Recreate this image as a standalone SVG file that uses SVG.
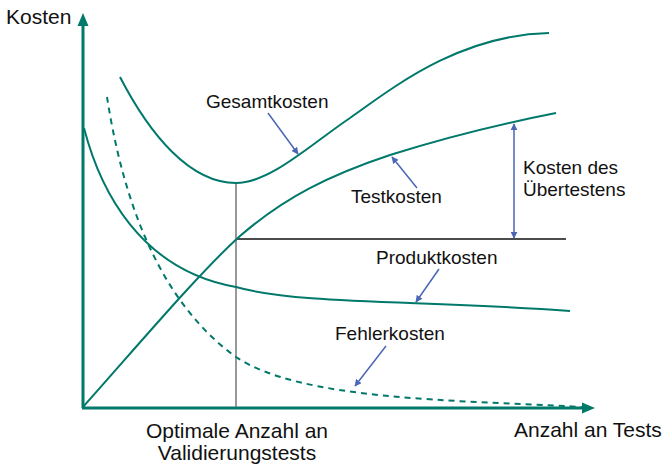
<svg xmlns="http://www.w3.org/2000/svg" width="672" height="467" viewBox="0 0 672 467">
  <style>
    .curve { fill: none; stroke: #00796B; stroke-width: 2; }
    .dashed { stroke-dasharray: 6 5; }
    .axis { fill: none; stroke: #00796B; stroke-width: 3; }
    .head { fill: #00796B; }
    .ptr { fill: none; stroke: #4A66B5; stroke-width: 1.5; }
    .lbl { font-family: "Liberation Sans", Arial, sans-serif; font-size: 19px; fill: #111; }
    .big { font-size: 21px; }
  </style>
  <defs>
    <marker id="tip" viewBox="0 0 10 10" refX="9" refY="5" markerWidth="7" markerHeight="7" markerUnits="userSpaceOnUse" orient="auto-start-reverse">
      <path d="M0,0 L10,5 L0,10 z" fill="#4A66B5"/>
    </marker>
  </defs>
  <rect width="672" height="467" fill="#fff"/>

  <!-- axes -->
  <g id="axes">
    <line class="axis" x1="83" y1="408" x2="83" y2="24"/>
    <polygon class="head" points="83,13 77.5,26 88.5,26"/>
    <line class="axis" x1="82" y1="408" x2="583" y2="408"/>
    <polygon class="head" points="595,408 582,402.5 582,413.5"/>
  </g>

  <!-- optimum markers -->
  <g id="optimum">
    <line x1="236" y1="183" x2="236" y2="407" stroke="#777" stroke-width="1.5"/>
    <line x1="236" y1="239" x2="566" y2="239" stroke="#111" stroke-width="1.3"/>
  </g>

  <!-- cost curves -->
  <g id="gesamtkosten"><path class="curve" d="M120,77 C150,135 190,183 236,183 C270,183 310,145 350,118 C395,86 460,35 549,33"/></g>
  <g id="testkosten"><path class="curve" d="M83,407 C140,343 200,272 240,236 C285,197 330,175 390,155 C450,136 500,124 556,113"/></g>
  <g id="produktkosten"><path class="curve" d="M84,128 C100,190 140,270 236,287 C300,305 420,300 570,311"/></g>
  <g id="fehlerkosten"><path class="curve dashed" d="M107,97 C120,180 150,295 236,357 C300,400 450,400 582,407"/></g>

  <!-- label pointers -->
  <g id="connectors">
    <line class="ptr" x1="268" y1="113" x2="298" y2="154" marker-end="url(#tip)"/>
    <line class="ptr" x1="417" y1="188" x2="392" y2="157" marker-end="url(#tip)"/>
    <line class="ptr" x1="439" y1="269" x2="416" y2="302" marker-end="url(#tip)"/>
    <line class="ptr" x1="386" y1="346" x2="355" y2="386" marker-end="url(#tip)"/>
    <line class="ptr" x1="514" y1="124" x2="514" y2="238" marker-start="url(#tip)" marker-end="url(#tip)"/>
  </g>

  <!-- labels -->
  <g id="labels">
    <text class="lbl big" x="6" y="24">Kosten</text>
    <text class="lbl" x="206" y="108">Gesamtkosten</text>
    <text class="lbl" x="351" y="203">Testkosten</text>
    <text class="lbl" x="523" y="174">Kosten des</text>
    <text class="lbl" x="523" y="196">Übertestens</text>
    <text class="lbl" x="376" y="264">Produktkosten</text>
    <text class="lbl" x="335" y="340">Fehlerkosten</text>
    <text class="lbl big" x="237" y="438" text-anchor="middle">Optimale Anzahl an</text>
    <text class="lbl big" x="237" y="460" text-anchor="middle">Validierungstests</text>
    <text class="lbl big" x="514" y="437">Anzahl an Tests</text>
  </g>
</svg>
